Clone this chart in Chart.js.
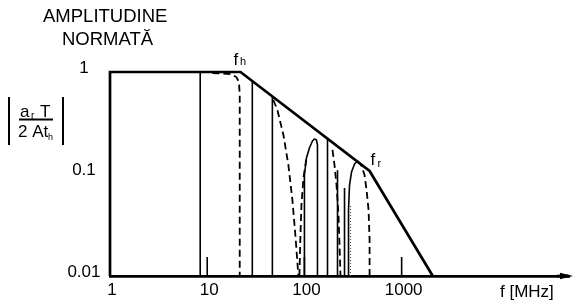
<!DOCTYPE html>
<html><head><meta charset="utf-8">
<script src="https://cdn.jsdelivr.net/npm/chart.js@4.4.1/dist/chart.umd.min.js"></script>
<style>html,body{margin:0;padding:0;background:#fff;overflow:hidden}canvas{display:block}</style>
</head><body>
<canvas id="c" width="573" height="300"></canvas>
<script>
// ---------- data: frequency f [MHz], normalized amplitude ----------
const xTickValues = [1, 10, 100, 1000];
const yTickValues = [0.01, 0.1, 1];
const fH = 22;      // corner f_h
const aH = 1;
const fR = 468;     // corner f_r
const aR = 0.107;

const envelopeFreq = [1, 1, 22, 468, 2090];
const envelopeAmp  = [0.01, 1, 1, 0.107, 0.01];

// solid spectral lines (from 0.01 up to the top value)
const lineFreq = [8.47, 29.1, 46.8, 172.7, 218.9, 258.4];
const lineAmp  = [1, 0.815, 0.576, 0.222, 0.109, 0.073];

// solid lobes
const lobe1Freq = [100, 100, 104.9, 112.6, 120.9, 126.8, 133, 136.2, 136.2];
const lobe1Amp  = [0.01, 0.0977, 0.1435, 0.1798, 0.2106, 0.2203, 0.2154, 0.1924, 0.01];
const lobe2Freq = [284.2, 284.2, 291, 305.1, 327.7, 351.9];
const lobe2Amp  = [0.01, 0.0444, 0.078, 0.1046, 0.1253, 0.134];

// dashed curves
const dash1Freq = [11.3, 17.3, 19.9, 21.2, 21.6, 21.6];
const dash1Amp  = [0.978, 0.956, 0.894, 0.80, 0.595, 0.01];
const dash2Freq = [47.9, 52.7, 60.8, 68.4, 75.2, 80.7, 86.7];
const dash2Amp  = [0.531, 0.424, 0.241, 0.1225, 0.0556, 0.0252, 0.01];
const dash3Freq = [88.8, 91.0, 93.2, 97.7, 104.9];
const dash3Amp  = [0.01, 0.0252, 0.0497, 0.0914, 0.1435];
const dash4Freq = [194.4, 203.9, 213.8, 224.2, 229.6, 235];
const dash4Amp  = [0.172, 0.1225, 0.078, 0.0396, 0.0201, 0.01];
const dash5Freq = [351.9, 387, 415.5, 435.8, 456.8, 468, 468];
const dash5Amp  = [0.134, 0.1198, 0.0977, 0.0697, 0.0444, 0.0225, 0.01];
const dottedFreq = [298, 298];
const dottedAmp  = [0.01, 0.0497];

const tickMarkFreq = [10, 100, 1000];

// ---------- build ----------
const FONT = '"Liberation Sans", Arial, Helvetica, sans-serif';
const xy = (fs, as) => fs.map((f, i) => ({x: f, y: as[i]}));
const base = {showLine: true, pointRadius: 0, borderColor: '#000', clip: false, tension: 0, borderJoinStyle: 'miter'};

const datasets = [];
datasets.push(Object.assign({}, base, {data: xy(envelopeFreq, envelopeAmp), borderWidth: 2.7}));
lineFreq.forEach((f, i) => datasets.push(Object.assign({}, base, {data: xy([f, f], [0.01, lineAmp[i]]), borderWidth: 1.6, borderCapStyle: 'butt'})));
[[lobe1Freq, lobe1Amp], [lobe2Freq, lobe2Amp]].forEach(([f, a]) =>
  datasets.push(Object.assign({}, base, {data: xy(f, a), borderWidth: 1.6, borderJoinStyle: 'round'})));
[[dash1Freq, dash1Amp], [dash2Freq, dash2Amp], [dash3Freq, dash3Amp], [dash4Freq, dash4Amp], [dash5Freq, dash5Amp]].forEach(([f, a]) =>
  datasets.push(Object.assign({}, base, {data: xy(f, a), borderWidth: 1.8, borderDash: [7, 4], borderJoinStyle: 'round'})));
datasets.push(Object.assign({}, base, {data: xy(dottedFreq, dottedAmp), borderWidth: 1, borderDash: [1, 2], borderColor: '#444'}));

const isPow = (v, list) => list.some(t => Math.abs(Math.log10(v) - Math.log10(t)) < 1e-6);
const fmt = v => (v >= 1 ? String(Math.round(v)) : String(+v.toPrecision(1)));

const decor = {
  id: 'decor',
  afterDatasetsDraw(chart) {
    const {ctx, chartArea, scales: {x, y}} = chart;
    const b = chartArea.bottom;
    ctx.save();
    ctx.strokeStyle = '#000';
    ctx.fillStyle = '#000';
    // axis tick marks (upwards)
    ctx.lineWidth = 1.6;
    tickMarkFreq.forEach(f => {
      const px = x.getPixelForValue(f);
      ctx.beginPath(); ctx.moveTo(px, b); ctx.lineTo(px, b - 19); ctx.stroke();
    });
    // axis extension + arrow head at right end of x axis
    const r = chartArea.right + 4;
    ctx.lineWidth = 2.7;
    ctx.beginPath(); ctx.moveTo(r - 16, b); ctx.lineTo(r - 4, b); ctx.stroke();
    ctx.beginPath(); ctx.moveTo(r, b); ctx.lineTo(r - 13, b - 3.2); ctx.lineTo(r - 13, b + 3.2); ctx.closePath(); ctx.fill();
    // corner labels
    const hx = x.getPixelForValue(fH), hy = y.getPixelForValue(aH);
    ctx.textBaseline = 'alphabetic'; ctx.textAlign = 'left';
    ctx.font = '17px ' + FONT; ctx.fillText('f', hx - 7, hy - 7);
    ctx.font = '11px ' + FONT; ctx.fillText('h', hx - 0.5, hy - 7);
    const rx = x.getPixelForValue(fR), ry = y.getPixelForValue(aR);
    ctx.font = '17px ' + FONT; ctx.fillText('f', rx + 1, ry - 6);
    ctx.font = '11px ' + FONT; ctx.fillText('r', rx + 8, ry - 4);
    // axis title x
    ctx.font = '17px ' + FONT; ctx.fillText('f [MHz]', 500, 296.5);
    // title
    ctx.font = '18.5px ' + FONT;
    ctx.fillText('AMPLITUDINE', 43, 21.5);
    ctx.fillText('NORMATĂ', 62, 45);
    // y axis fraction label |a_r T / 2 A t_h|
    ctx.lineWidth = 2;
    ctx.beginPath(); ctx.moveTo(9, 97); ctx.lineTo(9, 145); ctx.moveTo(63, 97); ctx.lineTo(63, 145);
    ctx.moveTo(19, 119.5); ctx.lineTo(53, 119.5); ctx.stroke();
    ctx.font = '17px ' + FONT; ctx.fillText('a', 20, 117);
    ctx.font = '10px ' + FONT; ctx.fillText('r', 31, 119);
    ctx.font = '17px ' + FONT; ctx.fillText('T', 40, 117);
    ctx.fillText('2 At', 18, 137);
    ctx.font = '9px ' + FONT; ctx.fillText('h', 48, 140);
    ctx.restore();
  }
};

new Chart(document.getElementById('c'), {
  type: 'scatter',
  data: {datasets},
  options: {
    responsive: false,
    devicePixelRatio: 1,
    animation: false,
    layout: {padding: {top: 0, right: 1, left: 0, bottom: 0}},
    plugins: {legend: {display: false}, tooltip: {enabled: false}},
    scales: {
      x: {
        type: 'logarithmic', min: 1, max: 52670, position: 'bottom',
        grid: {display: false, drawTicks: false},
        border: {display: true, color: '#000', width: 2.7},
        ticks: {
          autoSkip: false, maxRotation: 0, minRotation: 0, padding: 4, labelOffset: 2, color: '#000',
          font: {family: FONT, size: 17},
          callback: v => (isPow(v, xTickValues) ? fmt(v) : '')
        },
        afterFit: s => { s.height = 24; }
      },
      y: {
        type: 'logarithmic', min: 0.01, max: 3.256, position: 'left',
        grid: {display: false, drawTicks: false},
        border: {display: false},
        ticks: {
          autoSkip: false, padding: 9.5, crossAlign: 'center', labelOffset: -4, color: '#000',
          font: {family: FONT, size: 17},
          callback: v => (isPow(v, yTickValues) ? fmt(v) : '')
        },
        afterFit: s => { s.width = 110; }
      }
    }
  },
  plugins: [decor]
});
</script>
</body></html>
